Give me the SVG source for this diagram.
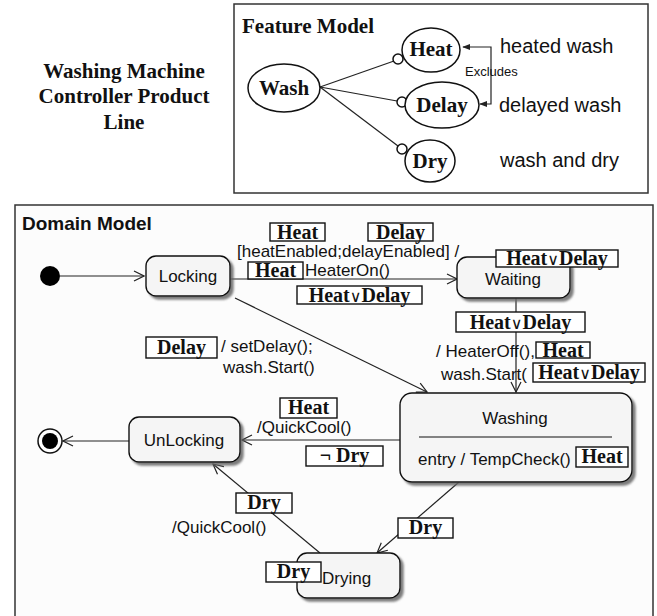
<svg xmlns="http://www.w3.org/2000/svg" width="657" height="616" viewBox="0 0 657 616">
<defs>
<style>
.frame{fill:#fcfcfc;stroke:#333;stroke-width:1.5}
.fnode{fill:#fff;stroke:#111;stroke-width:1.5}
.ftxt{font-family:"Liberation Serif","Times New Roman",serif;font-weight:bold;font-size:21px;fill:#111;text-anchor:middle}
.desc{font-family:"Liberation Sans",Arial,sans-serif;font-size:20px;fill:#111}
.state{fill:#f5f5f5;stroke:#111;stroke-width:1.4;filter:url(#sh)}
.stxt{font-family:"Liberation Sans",Arial,sans-serif;font-size:17px;fill:#111}
.mid{text-anchor:middle}
.conn{fill:none;stroke:#222;stroke-width:1.2}
.lb{fill:#fff;stroke:#111;stroke-width:1.4}
.lt{font-family:"Liberation Serif","Times New Roman",serif;font-weight:bold;font-size:20px;fill:#111;text-anchor:middle}
.or{font-family:"DejaVu Sans",sans-serif;font-weight:normal;font-size:16px}
</style>
<filter id="sh" x="-10%" y="-10%" width="130%" height="140%">
<feDropShadow dx="3" dy="3" stdDeviation="1.2" flood-color="#666" flood-opacity="0.85"/>
</filter>
<marker id="open" viewBox="0 0 12 12" refX="11" refY="6" markerWidth="12" markerHeight="12" orient="auto" markerUnits="userSpaceOnUse">
<path d="M1,1 L11,6 L1,11" fill="none" stroke="#222" stroke-width="1.2"/>
</marker>
<marker id="fill" viewBox="0 0 10 10" refX="9" refY="5" markerWidth="8" markerHeight="8" orient="auto" markerUnits="userSpaceOnUse">
<path d="M0,1 L10,5 L0,9 Z" fill="#222"/>
</marker>
</defs>

<rect x="0" y="0" width="657" height="616" fill="#fff"/>

<!-- Title -->
<g id="title" font-family="'Liberation Serif','Times New Roman',serif" font-weight="bold" font-size="21" fill="#111" text-anchor="middle">
<text x="124" y="78">Washing Machine</text>
<text x="124" y="103">Controller Product</text>
<text x="124" y="129">Line</text>
</g>

<!-- Feature Model -->
<g id="feature-model">
<rect x="234" y="4" width="414" height="189" class="frame" style="fill:#fff"/>
<text x="242" y="33" font-family="'Liberation Serif','Times New Roman',serif" font-weight="bold" font-size="21" fill="#111">Feature Model</text>
</g>
<g id="feature-connectors">
<path class="conn" stroke-width="1.4" d="M320,87 L394,61"/>
<path class="conn" stroke-width="1.4" d="M320,87 L397,101"/>
<path class="conn" stroke-width="1.4" d="M320,87 L398,146"/>
<circle cx="398" cy="59" r="5" class="fnode" stroke-width="1.3"/>
<circle cx="402" cy="102" r="5" class="fnode" stroke-width="1.3"/>
<circle cx="402" cy="149" r="5" class="fnode" stroke-width="1.3"/>
<path class="conn" d="M491,75 V47 H463" marker-end="url(#fill)"/>
<path class="conn" d="M491,75 V104 H480" marker-end="url(#fill)"/>
</g>
<g id="f-wash"><ellipse cx="284" cy="88" rx="36" ry="24" class="fnode"/><text x="284" y="95" class="ftxt">Wash</text></g>
<g id="f-heat"><ellipse cx="431" cy="50" rx="29" ry="22" class="fnode"/><text x="431" y="56" class="ftxt">Heat</text></g>
<g id="f-delay"><ellipse cx="442" cy="105" rx="37" ry="23" class="fnode"/><text x="442" y="112" class="ftxt">Delay</text></g>
<g id="f-dry"><ellipse cx="430" cy="161" rx="25" ry="21" class="fnode"/><text x="430" y="168" class="ftxt">Dry</text></g>
<text x="465" y="76" font-family="'Liberation Sans',Arial,sans-serif" font-size="13" fill="#111">Excludes</text>
<text x="500" y="53" class="desc">heated wash</text>
<text x="499" y="112" class="desc">delayed wash</text>
<text x="500" y="167" class="desc">wash and dry</text>

<!-- Domain Model -->
<g id="domain-model">
<rect x="15" y="205" width="638" height="430" class="frame"/>
<text x="22" y="230" font-family="'Liberation Sans',Arial,sans-serif" font-weight="bold" font-size="19" fill="#111">Domain Model</text>
</g>

<!-- Connectors -->
<g id="connectors">
<path class="conn" d="M60,276 H144" marker-end="url(#open)"/>
<path class="conn" d="M230,279 H457" marker-end="url(#open)"/>
<path class="conn" d="M235,298 L427,392" marker-end="url(#open)"/>
<path class="conn" d="M516,298 V392" marker-end="url(#open)"/>
<path class="conn" d="M400,440 H242" marker-end="url(#open)"/>
<path class="conn" d="M129,441 H63" marker-end="url(#open)"/>
<path class="conn" d="M459,482 L377,553" marker-end="url(#open)"/>
<path class="conn" d="M320,553 L213,464" marker-end="url(#open)"/>
</g>

<!-- States -->
<g id="initial"><circle cx="50" cy="276" r="10" fill="#000"/></g>
<g id="final"><circle cx="50" cy="441" r="12" fill="#fff" stroke="#111" stroke-width="1.5"/><circle cx="50" cy="441" r="8" fill="#000"/></g>
<g id="locking"><rect x="146" y="256" width="84" height="40" rx="10" class="state"/><text x="188" y="282" class="stxt mid">Locking</text></g>
<g id="waiting"><rect x="457" y="257" width="113" height="41" rx="10" class="state"/><text x="513" y="285" class="stxt mid">Waiting</text></g>
<g id="washing"><rect x="400" y="393" width="232" height="89" rx="12" class="state"/>
<text x="515" y="424" class="stxt mid">Washing</text>
<line x1="419" y1="437" x2="612" y2="437" stroke="#111" stroke-width="1.2"/>
<text x="418" y="465" class="stxt">entry / TempCheck()</text></g>
<g id="unlocking"><rect x="129" y="417" width="111" height="45" rx="10" class="state"/><text x="184" y="446" class="stxt mid">UnLocking</text></g>
<g id="drying"><rect x="297" y="553" width="103" height="45" rx="10" class="state"/><text x="322" y="584" class="stxt">Drying</text></g>

<!-- Transition labels -->
<g id="labels">
<text x="237" y="257" class="stxt">[heatEnabled;delayEnabled] /</text>
<text x="305" y="276" class="stxt">HeaterOn()</text>
<text x="221" y="352" class="stxt">/ setDelay();</text>
<text x="223" y="373" class="stxt">wash.Start()</text>
<text x="436" y="357" class="stxt">/ HeaterOff(),</text>
<text x="441" y="380" class="stxt">wash.Start(</text>
<text x="257" y="433" class="stxt">/QuickCool()</text>
<text x="172" y="533" class="stxt">/QuickCool()</text>

<rect x="270" y="223" width="55" height="18" class="lb"/><text x="297.5" y="239" class="lt">Heat</text>
<rect x="368" y="223" width="65" height="18" class="lb"/><text x="400.5" y="239" class="lt">Delay</text>
<rect x="248" y="262" width="55" height="17" class="lb"/><text x="275.5" y="277" class="lt">Heat</text>
<rect x="297" y="286" width="125" height="18" class="lb"/><text x="359.5" y="302" class="lt">Heat<tspan class="or">∨</tspan>Delay</text>
<rect x="496" y="250" width="122" height="17" class="lb"/><text x="557" y="265" class="lt">Heat<tspan class="or">∨</tspan>Delay</text>
<rect x="456" y="312" width="129" height="20" class="lb"/><text x="520.5" y="329" class="lt">Heat<tspan class="or">∨</tspan>Delay</text>
<rect x="536" y="342" width="54" height="16" class="lb"/><text x="563" y="357" class="lt">Heat</text>
<rect x="533" y="363" width="112" height="19" class="lb"/><text x="589" y="379" class="lt">Heat<tspan class="or">∨</tspan>Delay</text>
<rect x="146" y="337" width="71" height="21" class="lb"/><text x="181.5" y="354" class="lt">Delay</text>
<rect x="280" y="398" width="57" height="20" class="lb"/><text x="308.5" y="414" class="lt">Heat</text>
<rect x="306" y="446" width="77" height="20" class="lb"/><text x="344.5" y="462" class="lt">¬ Dry</text>
<rect x="576" y="447" width="52" height="20" class="lb"/><text x="602" y="463" class="lt">Heat</text>
<rect x="398" y="518" width="55" height="20" class="lb"/><text x="425.5" y="534" class="lt">Dry</text>
<rect x="236" y="493" width="56" height="20" class="lb"/><text x="264" y="509" class="lt">Dry</text>
<rect x="266" y="562" width="55" height="20" class="lb"/><text x="293.5" y="578" class="lt">Dry</text>
</g>
</svg>
